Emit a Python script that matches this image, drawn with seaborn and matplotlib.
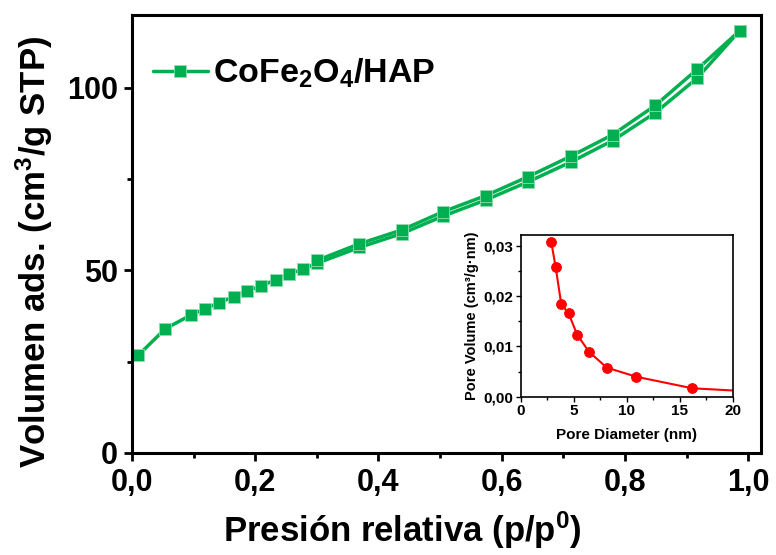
import matplotlib
matplotlib.use("Agg")
import matplotlib.pyplot as plt
from matplotlib.ticker import MultipleLocator, FuncFormatter
from matplotlib.lines import Line2D
import seaborn as sns
import pandas as pd

# isotherm, adsorption branch (lower) and desorption branch (upper)
p_ads = [0.010, 0.054, 0.096, 0.119, 0.142, 0.165, 0.187, 0.210, 0.233, 0.255, 0.278,
         0.301, 0.369, 0.438, 0.505, 0.574, 0.643, 0.712, 0.780, 0.849, 0.917, 0.986]
v_ads = [26.7, 34.0, 37.8, 39.5, 41.2, 42.8, 44.3, 45.8, 47.4, 49.0, 50.4,
         52.0, 56.3, 60.1, 64.9, 69.3, 74.3, 79.7, 85.6, 93.2, 102.7, 115.7]
p_des = [0.986, 0.917, 0.849, 0.780, 0.712, 0.643, 0.574, 0.505, 0.438, 0.369, 0.301]
v_des = [115.7, 105.1, 95.2, 87.2, 81.3, 75.7, 70.5, 66.1, 61.1, 57.3, 52.8]

# pore size distribution (inset)
pore_d = [2.89, 3.30, 3.83, 4.52, 5.34, 6.47, 8.13, 10.9, 16.2, 24.0]
pore_v = [0.0307, 0.0258, 0.0184, 0.0166, 0.0123, 0.0089, 0.0058, 0.0040, 0.0017, 0.0008]

label = "CoFe$_2$O$_4$/HAP"
green = "#00B050"
edge = "#8fdcb0"

sns.set_style("ticks")
plt.rcParams["font.family"] = ["Liberation Sans", "DejaVu Sans"]
plt.rcParams["font.weight"] = "bold"
plt.rcParams["mathtext.fontset"] = "custom"
plt.rcParams["mathtext.rm"] = "Liberation Sans:bold"
plt.rcParams["mathtext.it"] = "Liberation Sans:bold"
plt.rcParams["mathtext.bf"] = "Liberation Sans:bold"
plt.rcParams["mathtext.default"] = "rm"
for k in ["text.color", "axes.labelcolor", "xtick.color", "ytick.color", "axes.edgecolor"]:
    plt.rcParams[k] = "black"

ads = pd.DataFrame({"p": p_ads, "v": v_ads})
des = pd.DataFrame({"p": p_des, "v": v_des})
psd = pd.DataFrame({"d": pore_d, "pv": pore_v})

fig = plt.figure(figsize=(7.76, 5.55), dpi=100)
ax = fig.add_axes([0.170, 0.184, 0.811, 0.789])

for df in (ads, des):
    sns.lineplot(data=df, x="p", y="v", sort=False, estimator=None, ax=ax,
                 color=green, lw=2.5, marker="s", markersize=8.5,
                 markeredgecolor=edge, markeredgewidth=0.6, legend=False)

ax.set_xlim(0, 1.021)
ax.set_ylim(0, 120)
ax.xaxis.set_major_locator(MultipleLocator(0.2))
ax.xaxis.set_minor_locator(MultipleLocator(0.1))
ax.yaxis.set_major_locator(MultipleLocator(50))
ax.yaxis.set_minor_locator(MultipleLocator(25))
ax.xaxis.set_major_formatter(FuncFormatter(lambda v, p: f"{v:.1f}".replace(".", ",")))
ax.tick_params(which="major", length=6, width=2, labelsize=22, direction="out")
ax.tick_params(axis="x", which="major", pad=5)
ax.tick_params(axis="y", which="major", pad=4)
ax.tick_params(which="minor", length=3.5, width=2, direction="out")
for s in ax.spines.values():
    s.set_linewidth(2.2)
ax.set_xlabel("Presión relativa (p/p$^0$)", fontsize=25, fontweight="bold")
ax.set_ylabel("Volumen ads. (cm$^3$/g STP)", fontsize=25, fontweight="bold")
ax.xaxis.set_label_coords(0.43, -0.13)
ax.yaxis.set_label_coords(-0.122, 0.458)

handle = Line2D([], [], color=green, lw=2.5, marker="s", markersize=8.5,
                markeredgecolor=edge, markeredgewidth=0.6)
ax.legend([handle], [label], loc="upper left", bbox_to_anchor=(-0.015, 0.975),
          frameon=False, handlelength=1.6, handletextpad=0.15, numpoints=1,
          prop={"size": 24.5, "weight": "bold"})

# inset
ins = fig.add_axes([0.671, 0.285, 0.273, 0.292])
sns.lineplot(data=psd, x="d", y="pv", sort=False, estimator=None, ax=ins,
             color="red", lw=1.5, marker="o", markersize=7,
             markeredgecolor="red", legend=False)
ins.set_xlim(0, 20)
ins.set_ylim(0, 0.0322)
ins.xaxis.set_major_locator(MultipleLocator(5))
ins.xaxis.set_minor_locator(MultipleLocator(2.5))
ins.yaxis.set_major_locator(MultipleLocator(0.01))
ins.yaxis.set_minor_locator(MultipleLocator(0.005))
ins.yaxis.set_major_formatter(FuncFormatter(lambda v, p: f"{v:.2f}".replace(".", ",")))
ins.tick_params(which="major", length=3.5, width=1, labelsize=11, direction="out", pad=2)
ins.tick_params(which="minor", length=2, width=1, direction="out")
for s in ins.spines.values():
    s.set_linewidth(1.2)
ins.set_xlabel("Pore Diameter (nm)", fontsize=11, fontweight="bold", labelpad=7)
ins.set_ylabel("Pore Volume (cm³/g·nm)", fontsize=10.5, fontweight="bold", labelpad=3)

fig.savefig("out.png", dpi=100)
